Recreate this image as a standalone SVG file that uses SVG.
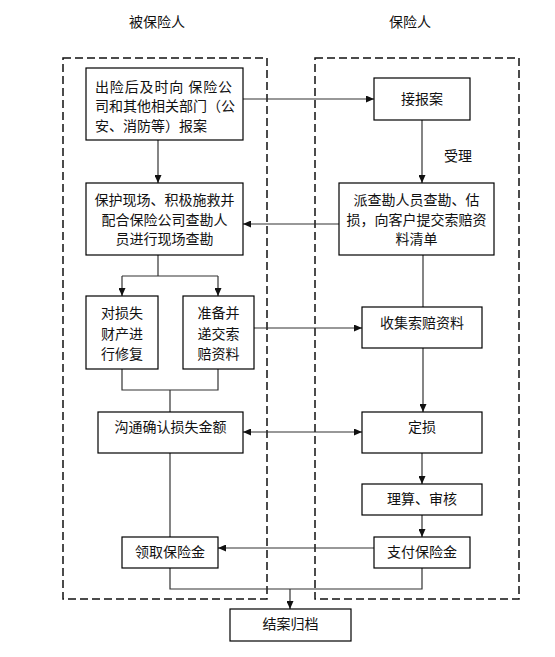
<svg xmlns="http://www.w3.org/2000/svg" width="555" height="657" viewBox="0 0 555 657">
<style>
text{font-family:"Noto Sans CJK SC","Liberation Sans",sans-serif;font-size:14px;fill:#111;text-anchor:middle}
.box{fill:#fff;stroke:#000;stroke-width:1.2}
.lane{fill:none;stroke:#111;stroke-width:1.5;stroke-dasharray:8 4}
.c{fill:none;stroke:#333;stroke-width:1.2}
.a{marker-end:url(#ah)}
</style>
<defs>
<marker id="ah" viewBox="0 0 8 7" refX="8" refY="3.5" markerWidth="8" markerHeight="7" markerUnits="userSpaceOnUse" orient="auto-start-reverse">
<path d="M0,0 L8,3.5 L0,7 z" fill="#111"/>
</marker>
</defs>
<rect width="555" height="657" fill="#fff"/>
<g id="lanes">
<rect class="lane" x="63" y="58" width="204" height="541"/>
<rect class="lane" x="315" y="58" width="204" height="541"/>
<text x="157" y="27">被保险人</text>
<text x="410" y="27">保险人</text>
</g>
<g id="connectors">
<path class="c a" d="M243,99 H374"/>
<path class="c a" d="M422,120 V183"/>
<path class="c a" d="M339,224 H243"/>
<path class="c a" d="M158,140 V183"/>
<path class="c" d="M158,255 V276 M122,276 H218"/>
<path class="c a" d="M122,276 V296"/>
<path class="c a" d="M218,276 V296"/>
<path class="c" d="M122,369 V390 H218 V369 M170,390 V412"/>
<path class="c a" d="M254,328 H362"/>
<path class="c" d="M423,255 V307"/>
<path class="c a" d="M423,348 V412"/>
<path class="c a" d="M243,432 H362" marker-start="url(#ah)"/>
<path class="c" d="M170,453 V537"/>
<path class="c a" d="M422,453 V484"/>
<path class="c a" d="M422,515 V537"/>
<path class="c a" d="M374,548 H218"/>
<path class="c" d="M170,568 V589 H422 V568"/>
<path class="c a" d="M290,589 V609"/>
<text x="458" y="161">受理</text>
</g>
<g id="n1">
<rect class="box" x="86" y="68" width="157" height="72"/>
<text x="95" y="92" style="text-anchor:start" textLength="137">出险后及时向 保险公</text>
<text x="95" y="111" style="text-anchor:start">司和其他相关部门（公</text>
<text x="95" y="131" style="text-anchor:start">安、消防等）报案</text>
</g>
<g id="n2">
<rect class="box" x="86" y="183" width="157" height="72"/>
<text x="164.5" y="205">保护现场、积极施救并</text>
<text x="164.5" y="225">配合保险公司查勘人</text>
<text x="164.5" y="244">员进行现场查勘</text>
</g>
<g id="n3">
<rect class="box" x="86" y="296" width="72" height="73"/>
<text x="122" y="318">对损失</text>
<text x="122" y="339">财产进</text>
<text x="122" y="359">行修复</text>
</g>
<g id="n4">
<rect class="box" x="183" y="296" width="71" height="73"/>
<text x="218.5" y="318">准备并</text>
<text x="218.5" y="339">递交索</text>
<text x="218.5" y="359">赔资料</text>
</g>
<g id="n5">
<rect class="box" x="98" y="412" width="145" height="41"/>
<text x="170.5" y="432">沟通确认损失金额</text>
</g>
<g id="n6">
<rect class="box" x="122" y="537" width="96" height="31"/>
<text x="170" y="557">领取保险金</text>
</g>
<g id="n7">
<rect class="box" x="374" y="78" width="96" height="42"/>
<text x="422" y="104">接报案</text>
</g>
<g id="n8">
<rect class="box" x="339" y="183" width="155" height="72"/>
<text x="416.5" y="205">派查勘人员查勘、估</text>
<text x="416.5" y="225">损，向客户提交索赔资</text>
<text x="416.5" y="244">料清单</text>
</g>
<g id="n9">
<rect class="box" x="362" y="307" width="120" height="41"/>
<text x="422" y="328">收集索赔资料</text>
</g>
<g id="n10">
<rect class="box" x="362" y="412" width="120" height="41"/>
<text x="422" y="432">定损</text>
</g>
<g id="n11">
<rect class="box" x="362" y="484" width="120" height="31"/>
<text x="422" y="504">理算、审核</text>
</g>
<g id="n12">
<rect class="box" x="374" y="537" width="96" height="31"/>
<text x="422" y="557">支付保险金</text>
</g>
<g id="n13">
<rect class="box" x="230" y="609" width="121" height="32"/>
<text x="290.5" y="629">结案归档</text>
</g>
</svg>
